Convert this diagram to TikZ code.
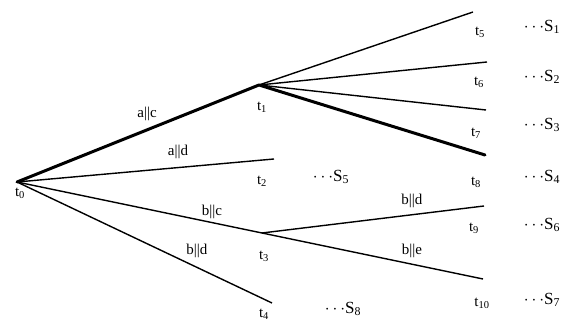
\documentclass[tikz,border=0pt]{standalone}
\usepackage{fontspec}
\setmainfont{Liberation Serif}
\begin{document}
\begin{tikzpicture}[x=1pt,y=1pt,
  edge/.style={line width=1.4pt},
  thickedge/.style={line width=3pt,line cap=round,line join=round},
  tlab/.style={font=\fontsize{15}{15}\selectfont,inner sep=0pt},
  slab/.style={font=\fontsize{17}{17}\selectfont,inner sep=0pt},
  elab/.style={font=\fontsize{15}{15}\selectfont,inner sep=0pt}]
\useasboundingbox (0,0) rectangle (582,323);
% points
\coordinate (t0) at (17,141);
\coordinate (t1) at (259,238);
\coordinate (t2) at (274,164);
\coordinate (t3) at (262,90);
\coordinate (t4) at (272,20);
\coordinate (t5) at (473,311);
\coordinate (t6) at (487,261);
\coordinate (t7) at (486,213);
\coordinate (t8) at (485,168);
\coordinate (t9) at (484,117);
\coordinate (t10) at (483,44);
% edges
\draw[edge] (t0) -- (t2);
\draw[edge] (t0) -- (t3);
\draw[edge] (t0) -- (t4);
\draw[edge] (t1) -- (t5);
\draw[edge] (t1) -- (t6);
\draw[edge] (t1) -- (t7);
\draw[edge] (t3) -- (t9);
\draw[edge] (t3) -- (t10);
\draw[thickedge] (t0) -- (t1) -- (t8);
% node labels
\node[tlab] (l0) at (20,130) {t\textsubscript{0}};
\node[tlab] (l1) at (262,216) {t\textsubscript{1}};
\node[tlab] (l2) at (262,142) {t\textsubscript{2}};
\node[tlab] (l3) at (264,67) {t\textsubscript{3}};
\node[tlab] (l4) at (264,9) {t\textsubscript{4}};
\node[tlab] (l5) at (480,291) {t\textsubscript{5}};
\node[tlab] (l6) at (479,241) {t\textsubscript{6}};
\node[tlab] (l7) at (476,190) {t\textsubscript{7}};
\node[tlab] (l8) at (476,141) {t\textsubscript{8}};
\node[tlab] (l9) at (474,95) {t\textsubscript{9}};
\node[tlab] (l10) at (482,20) {t\textsubscript{10}};
% state labels
\node[slab] (s1) at (542,296) {$\cdots$S\textsubscript{1}};
\node[slab] (s2) at (542,246) {$\cdots$S\textsubscript{2}};
\node[slab] (s3) at (542,198) {$\cdots$S\textsubscript{3}};
\node[slab] (s4) at (542,146) {$\cdots$S\textsubscript{4}};
\node[slab] (s5) at (331,146) {$\cdots$S\textsubscript{5}};
\node[slab] (s6) at (542,98) {$\cdots$S\textsubscript{6}};
\node[slab] (s7) at (542,23) {$\cdots$S\textsubscript{7}};
\node[slab] (s8) at (343,14) {$\cdots$S\textsubscript{8}};
% edge labels
\node[elab] (e1) at (147,209) {a||c};
\node[elab] (e2) at (178,171) {a||d};
\node[elab] (e3) at (212,111) {b||c};
\node[elab] (e4) at (197,72) {b||d};
\node[elab] (e5) at (412,122) {b||d};
\node[elab] (e6) at (412,72) {b||e};
\end{tikzpicture}
\end{document}
